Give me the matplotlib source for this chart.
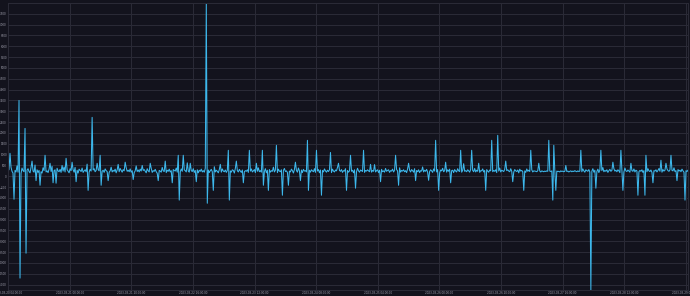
"""Dark time-series panel: noisy signal with sharp spikes."""

import matplotlib
matplotlib.use("Agg")
import matplotlib.pyplot as plt
import matplotlib.dates as mdates
import pandas as pd

START = "2023-03-20 04:00:00"
STEP = "1170s"

# baseline noise (~130..600)
noise = [
    250, 310, 180, 420, 230, 150, 360, 270, 200, 480, 190, 300, 240, 130, 380, 260, 210, 330, 170, 290,
    350, 220, 160, 410, 280, 240, 190, 520, 230, 300, 180, 270, 340, 210, 150, 390, 260, 310, 200, 250,
    170, 330, 280, 220, 460, 190, 260, 300, 140, 370, 250, 210, 320, 180, 290, 240, 430, 200, 270, 310,
    230, 160, 350, 260, 200, 300, 190, 410, 240, 280, 150, 330, 270, 220, 380, 180, 250, 300, 210, 560,
    260, 190, 320, 240, 170, 290, 350, 210, 270, 140, 310, 250, 200, 390, 230, 280, 180, 340, 260, 220,
    300, 180, 250, 420, 200, 270, 230, 330, 160, 290, 240, 210, 360, 270, 190, 310, 250, 150, 400, 230,
    280, 210, 340, 190, 260, 300, 170, 250, 480, 220, 290, 200, 330, 240, 180, 270, 310, 230, 160, 350,
    250, 200, 290, 370, 180, 260, 230, 320, 210, 140, 300, 270, 240, 190, 410, 250, 220, 300, 170, 280,
    230, 330, 200, 260, 150, 310, 270, 240, 380, 190, 250, 290, 210, 340, 230, 170, 300, 260, 200, 620,
    240, 190, 310, 260, 220, 350, 180, 270, 240, 300, 160, 280, 230, 330, 200, 260, 190, 370, 250, 220,
    290, 170, 260, 320, 210, 250, 440, 200, 280, 230, 160, 310, 260, 190, 340, 240, 210, 290, 180, 270,
    330, 220, 250, 190, 300, 270, 150, 360, 230, 260, 200, 320, 240, 180, 290, 510, 210, 260, 230, 300,
    180, 270, 240, 340, 200, 250, 310, 170, 280, 230, 390, 210, 260, 190, 300, 250, 220, 350, 160, 280,
    240, 310, 190, 260, 230, 420, 200, 280, 250, 170, 330, 240, 210, 300, 190, 270, 360, 220, 250, 180,
    290, 240, 200, 330, 260, 150, 310, 230, 270, 190, 380, 250, 210, 290, 170, 320, 240, 260, 200, 460,
    230, 280, 190, 300, 250, 210, 350, 180, 260, 240, 310, 160, 290, 230, 270, 200, 340, 250, 190, 280,
    220, 300, 260, 170, 330, 240, 200, 290, 250, 410, 190, 270, 230, 310, 180, 260, 240, 350, 210, 270,
    190, 250, 320, 230, 280, 160, 300, 240, 210, 370, 250, 190, 290, 260, 220, 330, 180, 270, 240, 300,
    250, 210, 340, 190, 270, 230, 540, 200, 260, 300, 170, 280, 240, 320, 210, 250, 190, 360, 230, 270,
    300, 180, 260, 240, 330, 200, 280, 150, 310, 250, 220, 390, 190, 270, 240, 300, 210, 260, 170, 340,
    240, 280, 200, 310, 260, 190, 350, 230, 270, 210, 300, 170, 260, 240, 430, 200, 280, 230, 320, 190,
    260, 220, 300, 250, 180, 340, 240, 270, 200, 310, 230, 160, 290, 250, 370, 210, 260, 240, 190, 300,
    230, 330, 210, 260, 280, 170, 310, 240, 200, 350, 250, 220, 290, 190, 270, 580, 230, 260, 210, 300,
    250, 190, 320, 240, 270, 210, 360, 200, 280, 230, 300, 180, 260, 250, 340, 200, 270, 220, 310, 240,
    190, 290, 250, 330, 210, 270, 230, 300, 170, 260, 240, 380, 200, 280, 250, 220, 320, 190, 260, 300,
    240, 210, 350, 230, 270, 190, 310, 250, 220, 290, 160, 330, 240, 270, 210, 300, 250, 180, 340, 230,
    280, 220, 260, 300, 200, 250, 240, 230, 210, 260, 220, 240, 200, 250, 230, 210, 240, 220, 250, 230,
    210, 240, 220, 250, 200, 230, 260, 210, 240, 220, 230, 200, 250, 220, 240, 210, 230, 250, 220, 240,
    200, 230, 250, 210, 240, 220, 260, 230, 210, 250, 220, 240, 290, 210, 340, 250, 190, 300, 260, 230,
    310, 200, 270, 240, 350, 190, 280, 250, 220, 330, 170, 290, 240, 260, 400, 210, 270, 230, 300, 180,
    260, 320, 230, 270, 190, 350, 240, 280, 210, 300, 250, 170, 330, 240, 270, 200, 380, 250, 220, 290,
    240, 190, 310, 260, 230, 340, 200, 280, 250, 460, 210, 270, 230, 300, 180, 260, 320, 240, 210, 350,
    250, 220, 290, 180, 330, 260, 240, 300, 200, 270, 360, 230, 250, 190, 310, 240, 280, 210, 340, 260,
    230, 300, 200, 270, 250, 390, 220, 260, 180, 310, 240, 280, 210, 330, 250, 190, 300, 260, 220, 280,
]

# large spikes: sample index -> value
spike_idx = [2, 6, 11, 12, 17, 18, 32, 37, 48, 58, 80, 84, 92, 93, 170, 171, 175, 198, 199, 205,
             220, 221, 241, 254, 255, 260, 268, 274, 280, 299, 300, 308, 313, 322, 338, 342, 347, 355,
             387, 390, 420, 427, 430, 452, 463, 477, 483, 489, 515, 522, 540, 544, 545, 547,
             572, 582, 587, 592, 612, 614, 629, 636, 637, 652, 662, 676]
spike_val = [1060, -1060, 3500, -4700, 2210, -3550, -415, 970, -320, 830, -650, 2720, 970, -415,
             970, -1100, 970, 7975, -1245, -650,
             1200, -1100, 1200, 1200, -415, -650, 1430, -875, -415, 1660, -650, 1200, -875, 1100,
             -650, 970, -550, 1200,
             970, -415, -185, 1660, -650, 1200, 1200, -650, 1660, 1890, -650, 1200, 1660, -1100,
             1430, -650,
             1200, -5250, -550, 1200, 1200, -650, -875, -875, 970, 740, 970, -1100]

# small spikes around the band
small_idx = [24, 28, 42, 45, 54, 64, 68, 89, 100, 110, 117, 125, 134, 142, 150, 157, 164, 182, 188,
             212, 228, 235, 248, 287, 292, 330, 362, 372, 400, 407, 437, 442, 470, 497, 504, 530,
             557, 604, 622, 644, 657, 668]
small_val = [700, -200, 600, -300, 500, 650, -250, 600, -200, 550, 650, -150, 500, 600, -200, 700,
             -300, 600, -250, 550, 700, -300, 600, 650, -200, 600, 550, -250, 600, -200, 650, -300,
             600, 700, -250, 600, 500, 650, 600, -300, 600, -200]

y_ticks = list(range(-5000, 8000, 500))

BG = "#13131d"
GRID = "#2b2b37"
LINE = "#3db8ec"
TEXT = "#9d9daa"

values = list(noise)
for i, v in zip(spike_idx + small_idx, spike_val + small_val):
    values[i] = v
times = pd.date_range(START, periods=len(values), freq=STEP)
s = pd.Series(values, index=times)

fig = plt.figure(figsize=(6.9, 2.96), dpi=100, facecolor=BG)
ax = fig.add_axes([8 / 690, 6 / 296, 680 / 690, 287 / 296], facecolor=BG)
ax.plot(s.index, s.values, color=LINE, linewidth=0.75)

ax.set_xlim(times[0], times[-1])
ax.set_ylim(-5250, 8000)
ax.set_yticks(y_ticks)
x_ticks = pd.date_range(times[0], times[-1], freq="20h")
ax.set_xticks(x_ticks)
ax.xaxis.set_major_formatter(mdates.DateFormatter("%Y-%m-%d %H:%M:%S"))

ax.grid(True, color=GRID, linewidth=0.7)
ax.tick_params(colors=TEXT, labelsize=2, length=0, pad=0.8)
for sp in ax.spines.values():
    sp.set_color(GRID)
    sp.set_linewidth(0.7)
ax.set_axisbelow(True)

fig.savefig("out.png", dpi=100, facecolor=BG)
plt.close(fig)
